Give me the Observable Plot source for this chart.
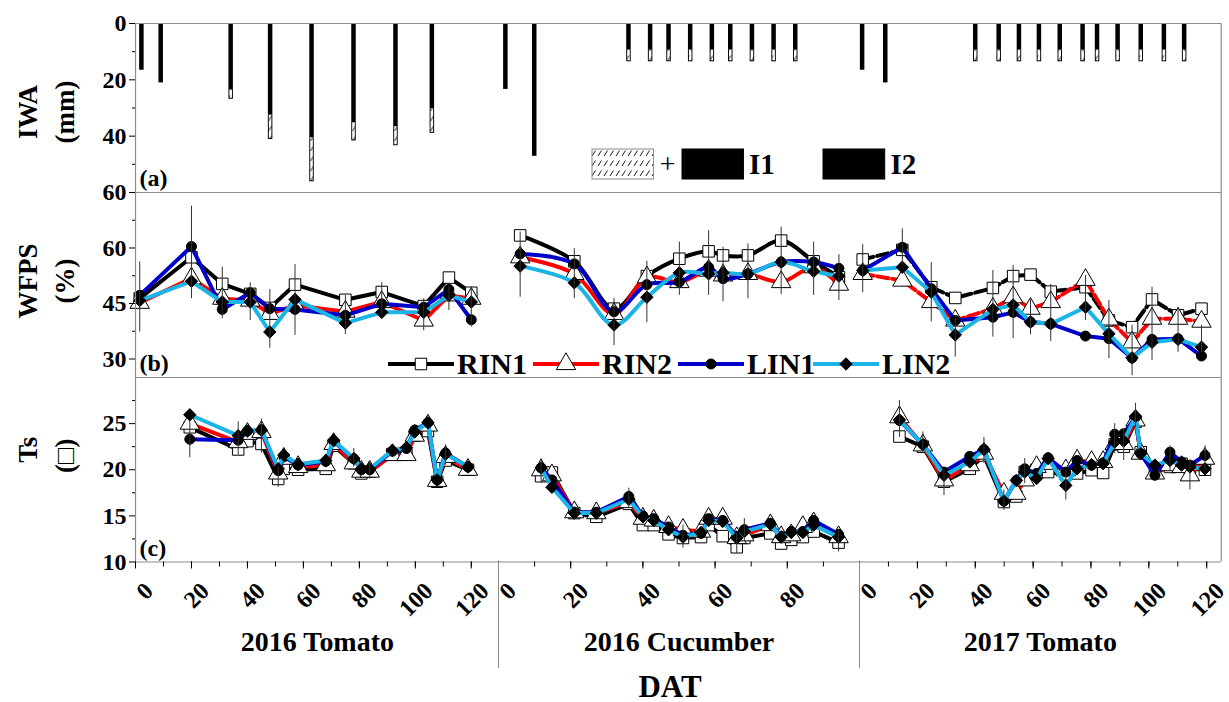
<!DOCTYPE html>
<html>
<head>
<meta charset="utf-8">
<script src="https://cdn.jsdelivr.net/npm/d3@7"></script>
<script src="https://cdn.jsdelivr.net/npm/@observablehq/plot@0.6"></script>
<style>
  html, body { margin: 0; padding: 0; background: #fff; }
  #chart { position: relative; width: 1229px; height: 702px; overflow: hidden;
           font-family: "Liberation Serif", "Times New Roman", serif; font-weight: bold; color: #000; }
  #chart svg.part { position: absolute; overflow: visible; }
  .txt { position: absolute; white-space: nowrap; line-height: 1; }
</style>
</head>
<body>
<svg width="0" height="0" style="position:absolute">
  <defs>
    <pattern id="hatch" width="6" height="10" patternUnits="userSpaceOnUse">
      <rect width="6" height="10" fill="#fff"></rect>
      <path d="M1,8 L4.5,2.5" stroke="#000" stroke-width="0.9"></path>
    </pattern>
  </defs>
</svg>
<div id="chart"></div>
<script>
// ---------------- data ----------------
const seasons = ["2016 Tomato", "2016 Cucumber", "2017 Tomato"];
const seasonEnd = [130, 100, 125];
const datTickLabels = [[0, 20, 40, 60, 80, 100, 120], [0, 20, 40, 60, 80], [0, 20, 40, 60, 80, 100, 120]];
const seriesNames = ["RIN1", "RIN2", "LIN1", "LIN2"];
const seriesColors = ["#000000", "#ff0000", "#0000c8", "#1ab4e6"];
const seriesSymbols = ["square", "triangle", "circle", "diamond2"];
const seriesFill = ["#ffffff", "#ffffff", "#000000", "#000000"];
const seriesR = [6.5, 7.2, 5, 5.6];

const panelLabels = ["(a)", "(b)", "(c)"];
const yTitles = [["IWA", "(mm)"], ["WFPS", "(%)"], ["Ts", "(□)"]];
const yDomains = [[0, 60], [25, 75], [10, 30]];
const yMajorTicks = [[0, 20, 40, 60], [30, 45, 60], [10, 15, 20, 25]];
const yMinorTicks = [[10, 30, 50], [37.5, 52.5, 67.5], [12.5, 17.5, 22.5, 27.5]];
const xTitle = "DAT";
const iwaLegend = ["+", "I1", "I2"];

// (a) irrigation water amount, mm : I2 = black part, I1 = black + hatched
const iwaDAT = [
  [2.1, 9, 34, 48.1, 62.9, 77.9, 92.9, 105.9],
  [1.9, 9.9, 36, 42, 47.1, 53.1, 59.1, 64.2, 70.2, 76.2, 82.2],
  [0.9, 8.9, 40, 48.1, 55.1, 62, 69.2, 77.1, 82.1, 89.2, 97.2, 105.2, 112.2]
];
const iwaI2 = [
  [16.6, 21.1, 23.7, 32.6, 40.6, 35.3, 36.7, 30.2],
  [23.4, 47.1, 9.5, 9.5, 9.5, 9.5, 9.5, 9.5, 9.5, 9.5, 9.5],
  [16.6, 21.1, 9.5, 9.5, 9.5, 9.5, 9.5, 9.5, 9.5, 9.5, 9.5, 9.5, 9.5]
];
const iwaI1 = [
  [16.6, 21.1, 26.9, 41.2, 56.2, 41.7, 43.4, 39.0],
  [23.4, 47.1, 13.6, 13.6, 13.6, 13.6, 13.6, 13.6, 13.6, 13.6, 13.6],
  [16.6, 21.1, 13.6, 13.6, 13.6, 13.6, 13.6, 13.6, 13.6, 13.6, 13.6, 13.6, 13.6]
];

// (b) WFPS, %
const wfpsDAT = [
  [1.5, 20, 31, 41, 48, 57, 75, 88, 103, 112, 120],
  [6.0, 21.0, 32.0, 41.1, 50.1, 58.2, 62.2, 69.1, 78.3, 87.3, 94.3],
  [1.1, 14.8, 24.8, 33.1, 46.1, 53.1, 59.1, 66.1, 78.1, 86.2, 94.2, 101.1, 110.1, 118.2]
];
const wfpsRIN1 = [
  [46.4, 57.5, 50.3, 47.6, 43.8, 50.1, 46.0, 48.1, 44.3, 52.0, 47.9],
  [63.4, 56.4, 43.6, 52.4, 57.1, 59.1, 58.0, 58.0, 62.0, 56.4, 52.1],
  [56.9, 59.5, 49.4, 46.5, 49.2, 52.4, 52.8, 48.2, 49.4, 40.4, 38.6, 46.1, 41.8, 43.6]
];
const wfpsRIN2 = [
  [45.2, 51.8, 46.3, 45.8, 42.2, 44.5, 42.8, 45.4, 40.4, 47.2, 46.3],
  [57.5, 53.0, 42.2, 52.1, 50.8, 53.9, 52.6, 53.0, 50.8, 54.8, 50.1],
  [53.0, 51.2, 45.4, 40.4, 43.6, 46.7, 43.6, 45.4, 51.4, 40.7, 34.5, 40.9, 40.9, 40.1]
];
const wfpsLIN1 = [
  [47.2, 60.4, 43.4, 47.9, 43.6, 43.4, 41.8, 44.9, 44.0, 48.8, 40.6],
  [58.4, 55.7, 42.8, 50.1, 50.8, 54.8, 51.7, 53.0, 56.2, 56.2, 54.5],
  [53.9, 60.2, 49.0, 40.4, 41.3, 42.6, 40.0, 39.5, 36.2, 35.5, 30.3, 35.3, 35.5, 30.8]
];
const wfpsLIN2 = [
  [45.8, 51.0, 45.4, 45.4, 37.3, 46.1, 39.7, 42.6, 42.6, 47.2, 45.4],
  [55.1, 50.6, 39.2, 46.7, 53.3, 53.0, 53.3, 53.0, 56.2, 53.7, 52.4],
  [53.9, 54.8, 48.1, 36.5, 43.4, 44.6, 40.0, 39.5, 44.0, 36.8, 30.3, 34.5, 35.3, 33.2]
];
const wfpsErrLo = [
  [37.3, 46.3, 40.9, 40.4, 32.9, 36.4, 36.6, 41.9, 37.6, 43.1, 38.6],
  [46.7, 46.3, 33.6, 39.8, 47.2, 47.2, 45.5, 46.3, 47.4, 47.2, 45.8],
  [47.9, 55.3, 40.0, 30.5, 35.9, 35.5, 36.5, 34.7, 40.4, 30.1, 25.5, 29.6, 31.8, 31.8]
];
const wfpsErrHi = [
  [56.2, 71.3, 54.8, 50.6, 48.8, 55.5, 47.2, 50.6, 46.3, 49.4, 49.4],
  [64.3, 59.8, 46.4, 56.4, 61.6, 64.7, 60.2, 61.1, 65.6, 61.6, 58.2],
  [60.9, 65.2, 56.0, 40.9, 53.9, 55.3, 46.0, 50.1, 52.6, 45.8, 39.1, 49.4, 44.0, 39.1]
];

// (c) soil temperature
const tsDAT = [
  [19.4, 36.7, 40, 45, 51, 53, 58.1, 68, 70.8, 78, 80.7, 83.7, 91.8, 96.8, 99.8, 104.5, 107.8, 110.8, 118.8],
  [11.8, 14.8, 21.0, 27.1, 36.1, 40.0, 43.0, 47.1, 51.1, 56.1, 58.2, 62.1, 66.0, 68.1, 75.3, 78.3, 81.1, 84.3, 87.3, 94.2],
  [13.8, 21.9, 29.2, 38.1, 43.0, 49.9, 54.2, 57.1, 61.2, 65.2, 71.3, 75.2, 80.2, 84.2, 88.2, 91.3, 95.4, 97.2, 102.1, 107.3, 111.3, 114.2, 119.4]
];
const tsRIN1 = [
  [24.6, 22.2, 23.1, 22.8, 19.0, 20.1, 20.0, 20.1, 22.6, 20.7, 19.6, 19.8, 21.7, 21.7, 23.7, 24.2, 18.7, 21.0, 20.0],
  [19.3, 19.7, 15.3, 14.9, 16.3, 14.0, 14.0, 13.0, 12.6, 12.7, 14.0, 12.8, 11.6, 12.6, 13.1, 12.0, 12.4, 12.7, 13.3, 12.1],
  [23.6, 22.5, 18.7, 20.1, 21.55, 16.5, 17.1, 19.75, 20.0, 19.75, 19.5, 19.6, 19.95, 19.65, 22.75, 22.5, 25.2, 21.9, 19.75, 20.3, 20.65, 20.1, 20.0]
];
const tsRIN2 = [
  [25.0, 23.0, 23.9, 24.1, 19.6, 21.2, 20.3, 20.5, 22.8, 20.7, 19.8, 19.8, 21.6, 21.6, 23.7, 24.8, 18.8, 21.4, 20.0],
  [19.95, 19.4, 15.4, 15.3, 16.5, 14.7, 14.5, 13.8, 13.5, 13.3, 14.7, 14.7, 12.6, 12.9, 14.0, 12.7, 12.9, 13.8, 14.2, 12.7],
  [25.7, 22.65, 18.85, 20.5, 21.75, 17.4, 17.4, 18.85, 20.3, 20.65, 19.95, 21.0, 20.85, 20.85, 22.8, 22.8, 25.35, 21.75, 19.6, 20.5, 20.3, 19.4, 21.2]
];
const tsLIN1 = [
  [23.3, 23.2, 24.2, 24.3, 19.9, 21.4, 20.5, 20.9, 23.1, 21.2, 20.0, 20.0, 22.0, 22.3, 24.3, 25.1, 18.9, 21.8, 20.3],
  [20.2, 18.9, 15.4, 15.4, 17.1, 15.0, 14.7, 13.8, 12.9, 13.1, 14.7, 14.5, 12.8, 13.5, 14.2, 12.8, 13.3, 13.3, 14.5, 13.0],
  [25.35, 22.75, 19.75, 21.45, 22.2, 16.6, 18.85, 20.1, 19.6, 21.3, 19.75, 21.0, 20.5, 20.75, 23.85, 23.9, 25.7, 21.75, 19.4, 21.9, 20.85, 20.5, 21.55]
];
const tsLIN2 = [
  [25.96, 23.7, 24.2, 24.3, 20.1, 21.6, 20.6, 21.0, 23.2, 21.2, 20.1, 20.1, 22.1, 22.4, 24.1, 25.1, 18.9, 21.7, 20.3],
  [20.2, 18.1, 15.3, 15.3, 16.8, 14.9, 14.5, 13.5, 12.7, 13.2, 14.5, 14.4, 12.6, 13.3, 14.1, 12.7, 13.2, 13.2, 14.0, 12.7],
  [25.4, 22.75, 19.4, 20.85, 22.2, 16.6, 18.85, 19.75, 19.05, 21.2, 18.3, 20.1, 20.55, 20.65, 23.0, 23.1, 25.8, 21.75, 20.5, 21.0, 20.5, 20.3, 20.1]
];
const tsErrDAT = [
  [19.4, 36.7, 45, 51, 78, 83.7, 110.8],
  [11.8, 36.1, 51.1, 66.0, 68.1, 94.2],
  [13.8, 21.9, 29.2, 43.0, 49.9, 57.1, 71.3, 88.2, 91.3, 95.4, 107.3, 114.2, 119.4]
];
const tsErrLo = [
  [21.3, 21.6, 21.8, 18.1, 20.3, 19.0, 20.5],
  [18.5, 15.8, 11.5, 10.9, 12.3, 11.1],
  [23.5, 22.1, 17.2, 20.7, 15.6, 18.5, 16.7, 21.75, 21.0, 24.6, 19.9, 17.8, 19.9]
];
const tsErrHi = [
  [25.35, 25.2, 25.5, 20.3, 22.3, 20.8, 22.7],
  [21.2, 18.0, 14.0, 13.1, 14.7, 13.5],
  [27.5, 24.1, 19.9, 23.5, 17.8, 21.2, 19.9, 25.0, 24.45, 27.2, 22.6, 21.0, 22.6]
];

// ---------------- layout ----------------
const colX = [134.5, 498.3, 859.3];
const colW = [363.8, 361, 361.7];
const rowY = [23.3, 192.3, 377.3];
const rowH = [169, 185, 184.5];
const FONT = "'Liberation Serif', 'Times New Roman', serif";
const FRAME = "#8c8c8c";

const chart = document.getElementById("chart");

function seriesSets(row, col) {
  if (row === 1) return {dat: wfpsDAT[col], vals: [wfpsRIN1[col], wfpsRIN2[col], wfpsLIN1[col], wfpsLIN2[col]]};
  return {dat: tsDAT[col], vals: [tsRIN1[col], tsRIN2[col], tsLIN1[col], tsLIN2[col]]};
}

function buildPanel(row, col) {
  const marks = [];
  const yd = yDomains[row];
  const xEnd = seasonEnd[col];
  const hasY = col === 0;
  const hasX = row === 2;

  if (row === 0) {
    const bars = iwaDAT[col].map((d, i) => ({dat: d, i2: iwaI2[col][i], i1: iwaI1[col][i]}));
    const extra = bars.filter(b => b.i1 > b.i2);
    marks.push(Plot.ruleX(bars, {x: "dat", y1: yd[0], y2: "i2", stroke: "#000", strokeWidth: 4.5}));
    marks.push(Plot.ruleX(extra, {x: "dat", y1: "i2", y2: "i1", stroke: "#000", strokeWidth: 4.5}));
    marks.push(Plot.ruleX(extra, {x: "dat", y1: "i2", y2: "i1", stroke: "url(#hatch)", strokeWidth: 2.6, insetBottom: 1}));
  } else {
    const {dat, vals} = seriesSets(row, col);
    const curve = (row === 1 && col === 1) ? "catmull-rom" : "linear";
    for (let s = 0; s < 4; s++) {
      const pts = dat.map((d, i) => ({dat: d, v: vals[s][i]}));
      const dash = (row === 1 && col === 2 && s < 2) ? "11,4" : null;
      marks.push(Plot.line(pts, {x: "dat", y: "v", stroke: seriesColors[s], strokeWidth: 4, curve, strokeDasharray: dash}));
      marks.push(Plot.dot(pts, {x: "dat", y: "v", symbol: seriesSymbols[s], r: seriesR[s], fill: seriesFill[s], stroke: "#000", strokeWidth: 1}));
    }
    let errs;
    if (row === 1) errs = wfpsDAT[col].map((d, i) => ({dat: d, lo: wfpsErrLo[col][i], hi: wfpsErrHi[col][i]}));
    else errs = tsErrDAT[col].map((d, i) => ({dat: d, lo: tsErrLo[col][i], hi: tsErrHi[col][i]}));
    marks.push(Plot.ruleX(errs, {x: "dat", y1: "lo", y2: "hi", stroke: "#333", strokeWidth: 1}));
  }

  // frame lines
  marks.push(Plot.ruleY([yd[1]], {stroke: FRAME, strokeWidth: 1.2}));
  marks.push(Plot.ruleY([yd[0]], {stroke: FRAME, strokeWidth: 1.2}));
  if (col === 0) marks.push(Plot.ruleX([0], {stroke: FRAME, strokeWidth: 1.2}));
  if (col === 2) marks.push(Plot.ruleX([xEnd], {stroke: FRAME, strokeWidth: 1.2}));

  if (hasY) {
    marks.push(Plot.axisY({ticks: yMajorTicks[row], anchor: "left", tickSize: 6, tickPadding: 3,
      fontSize: 24, fontWeight: "bold", fontFamily: FONT, label: null}));
    marks.push(Plot.axisY({ticks: yMinorTicks[row], anchor: "left", tickSize: 3, tickFormat: () => "", label: null}));
    marks.push(Plot.text([panelLabels[row]], {frameAnchor: "bottom-left", dx: 4, dy: -14, textAnchor: "start",
      lineAnchor: "middle", fontSize: 24, fontWeight: "bold", fontFamily: FONT}));
    const tdy = [4, -4, -20][row];
    marks.push(Plot.text([yTitles[row][0]], {frameAnchor: "left", dx: -107, dy: tdy, rotate: -90, textAnchor: "middle",
      lineAnchor: "middle", fontSize: 27, fontWeight: "bold", fontFamily: FONT}));
    marks.push(Plot.text([yTitles[row][1]], {frameAnchor: "left", dx: -70.5, dy: tdy + (row === 2 ? 6 : 0), rotate: -90, textAnchor: "middle",
      lineAnchor: "middle", fontSize: 27, fontWeight: "bold", fontFamily: FONT}));
  }
  if (hasX) {
    marks.push(Plot.axisX({ticks: d3.range(0, xEnd, 10), anchor: "bottom", tickSize: 5, tickFormat: () => "", label: null}));
    marks.push(Plot.axisX({ticks: datTickLabels[col], anchor: "bottom", tickSize: 7, tickFormat: () => "", label: null}));
    marks.push(Plot.text(datTickLabels[col], {x: d => d, frameAnchor: "bottom", rotate: -45, textAnchor: "end",
      lineAnchor: "middle", dx: 13.5, dy: 25, fontSize: 24, fontWeight: "bold", fontFamily: FONT}));
    marks.push(Plot.text([seasons[col]], {frameAnchor: "bottom", dy: 80, lineAnchor: "middle",
      fontSize: 28, fontWeight: "bold", fontFamily: FONT}));
  }

  const svg = Plot.plot({
    width: colW[col], height: rowH[row], margin: 0,
    x: {domain: [0, xEnd], axis: hasX ? undefined : null},
    y: {domain: yd, reverse: row === 0, axis: hasY ? undefined : null},
    style: {background: "none", overflow: "visible", fontFamily: FONT, color: "#000"},
    marks
  });
  svg.classList.add("part");
  svg.style.left = colX[col] + "px";
  svg.style.top = rowY[row] + "px";
  chart.append(svg);
}

for (let r = 0; r < 3; r++) for (let c = 0; c < 3; c++) buildPanel(r, c);

// season separators below the DAT axis
[1, 2].forEach(c => {
  const d = document.createElement("div");
  d.style.cssText = `position:absolute;left:${colX[c]}px;top:562px;width:1px;height:106px;background:${FRAME};`;
  chart.append(d);
});

// DAT title
const dt = document.createElement("div");
dt.className = "txt";
dt.textContent = xTitle;
dt.style.cssText += "left:670px;top:686px;font-size:31px;transform:translate(-50%,-50%);";
chart.append(dt);

// ---------------- legend (a) ----------------
function addBox(x, y, w, h, fill) {
  const s = d3.create("svg").attr("width", w + 2).attr("height", h + 2)
    .style("position", "absolute").style("left", (x - 1) + "px").style("top", (y - 1) + "px");
  s.append("rect").attr("x", 1).attr("y", 1).attr("width", w).attr("height", h)
    .attr("fill", fill).attr("stroke", fill === "#000" ? "#000" : "#888").attr("stroke-width", 1);
  chart.append(s.node());
}
function addText(txt, x, y, size, weight, anchor) {
  const t = document.createElement("div");
  t.className = "txt";
  t.textContent = txt;
  t.style.left = x + "px";
  t.style.top = y + "px";
  t.style.fontSize = size + "px";
  t.style.fontWeight = weight;
  t.style.transform = anchor === "middle" ? "translate(-50%,-50%)" : "translate(0,-50%)";
  chart.append(t);
}
addBox(591.7, 149, 61.6, 30, "url(#hatch)");
addText(iwaLegend[0], 667.7, 164, 28, "normal", "middle");
addBox(681.7, 149, 61.6, 30, "#000");
addText(iwaLegend[1], 749, 164, 29, "bold", "start");
addBox(823.3, 149, 61.7, 30, "#000");
addText(iwaLegend[2], 890.5, 164, 29, "bold", "start");

// ---------------- legend (b) ----------------
const legX = [388, 533, 678, 813];
const legY = 364;
const symMap = {square: d3.symbolSquare, triangle: d3.symbolTriangle, circle: d3.symbolCircle, diamond2: d3.symbolDiamond2};
const lsvg = d3.create("svg").attr("width", 1229).attr("height", 30)
  .style("position", "absolute").style("left", "0px").style("top", (legY - 15) + "px").style("overflow", "visible");
seriesNames.forEach((name, s) => {
  const x0 = legX[s];
  lsvg.append("line").attr("x1", x0).attr("x2", x0 + 66).attr("y1", 15).attr("y2", 15)
    .attr("stroke", seriesColors[s]).attr("stroke-width", 4);
  lsvg.append("path").attr("d", d3.symbol(symMap[seriesSymbols[s]], Math.PI * seriesR[s] * seriesR[s])())
    .attr("transform", `translate(${x0 + 33},15)`).attr("fill", seriesFill[s]).attr("stroke", "#000").attr("stroke-width", 1);
  addText(name, x0 + 69, legY, 30, "bold", "start");
});
chart.append(lsvg.node());
</script>
</body>
</html>
